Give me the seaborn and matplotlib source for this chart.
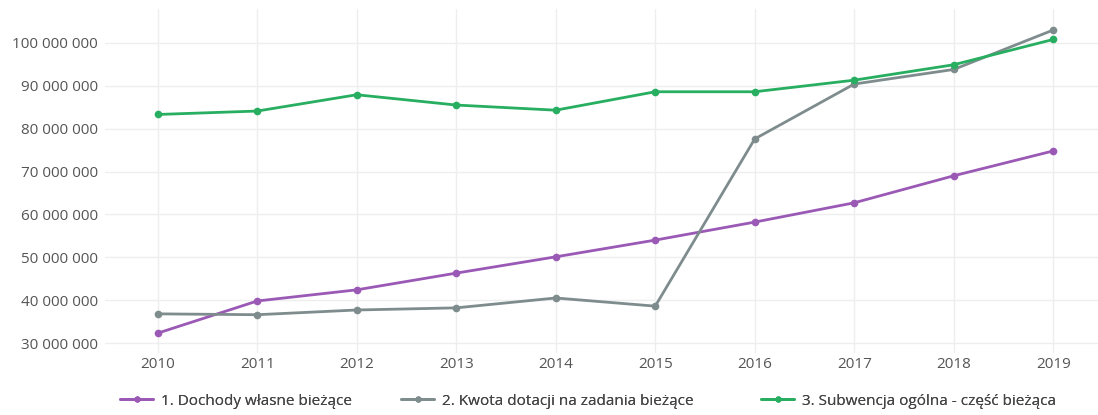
import matplotlib
matplotlib.use("Agg")
import matplotlib.pyplot as plt
from matplotlib.ticker import FuncFormatter, FixedLocator
import seaborn as sns
import pandas as pd

years = [2010, 2011, 2012, 2013, 2014, 2015, 2016, 2017, 2018, 2019]

dochody_wlasne = [32.3e6, 39.8e6, 42.4e6, 46.3e6, 50.1e6, 54.0e6, 58.2e6, 62.7e6, 69.0e6, 74.8e6]
kwota_dotacji = [36.8e6, 36.6e6, 37.7e6, 38.2e6, 40.5e6, 38.6e6, 77.6e6, 90.4e6, 93.8e6, 103.0e6]
subwencja = [83.3e6, 84.1e6, 87.9e6, 85.5e6, 84.3e6, 88.6e6, 88.6e6, 91.3e6, 94.9e6, 100.8e6]

series_names = [
    "1. Dochody własne bieżące",
    "2. Kwota dotacji na zadania bieżące",
    "3. Subwencja ogólna - część bieżąca",
]
series_colors = ["#9b59b6", "#7f8c8d", "#27ae60"]

y_ticks = [30e6, 40e6, 50e6, 60e6, 70e6, 80e6, 90e6, 100e6]

frames = []
for name, vals in zip(series_names, [dochody_wlasne, kwota_dotacji, subwencja]):
    frames.append(pd.DataFrame({"rok": years, "wartosc": vals, "seria": name}))
df = pd.concat(frames, ignore_index=True)

sns.set_theme(style="white")
plt.rcParams["font.family"] = ["Open Sans", "DejaVu Sans"]

fig = plt.figure(figsize=(10.98, 4.15), dpi=100)
ax = fig.add_axes([105 / 1098, 1 - 353 / 415, (1098 - 105) / 1098, (353 - 9) / 415])

sns.lineplot(
    data=df, x="rok", y="wartosc", hue="seria",
    palette=dict(zip(series_names, series_colors)),
    marker="o", markersize=5.5, markeredgewidth=0, linewidth=2,
    ax=ax, legend=False,
)

ax.set_xlim(2009.47, 2019.45)
ax.set_ylim(27.67e6, 107.9e6)
ax.xaxis.set_major_locator(FixedLocator(years))
ax.yaxis.set_major_locator(FixedLocator(y_ticks))
ax.yaxis.set_major_formatter(
    FuncFormatter(lambda v, _: f"{int(round(v)):,}".replace(",", " "))
)
ax.set_xlabel("")
ax.set_ylabel("")
ax.grid(True, color="#eeeeee", linewidth=1)
for s in ax.spines.values():
    s.set_visible(False)
ax.tick_params(axis="both", length=0, labelsize=11, labelcolor="#555555")
ax.tick_params(axis="x", pad=3)
ax.tick_params(axis="y", pad=5)

# one legend entry per series, laid out in a row under the axis
legend_x = [106, 387, 747]
for name, color, lx in zip(series_names, series_colors, legend_x):
    h = plt.Line2D([], [], color=color, marker="o", markersize=4.5,
                   linewidth=2, markeredgewidth=0)
    leg = fig.legend(
        [h], [name], loc="center left", bbox_to_anchor=(lx / 1098, 1 - 401 / 415),
        frameon=False, fontsize=11, labelcolor="#444444",
        handlelength=2.2, handletextpad=0.5,
    )
    fig.add_artist(leg)

fig.savefig("out.png", dpi=100)
